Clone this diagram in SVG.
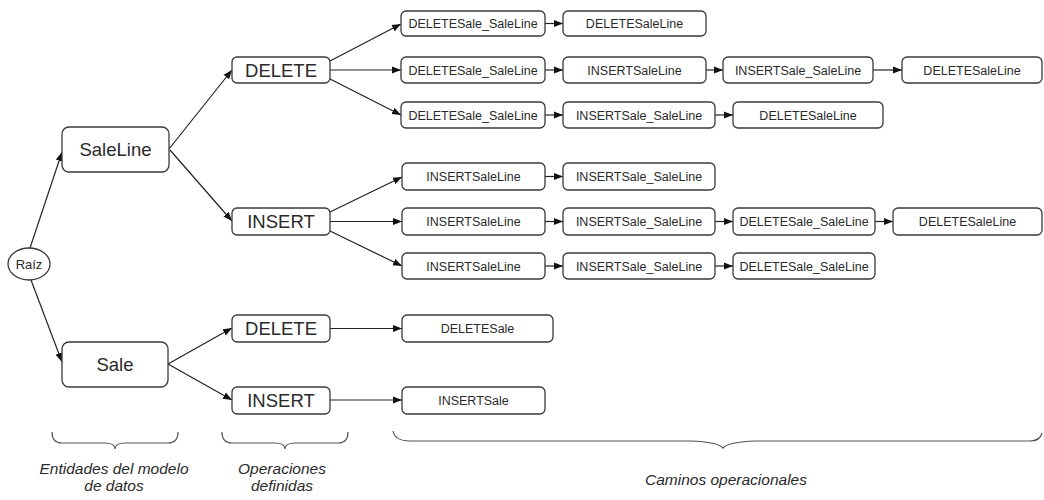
<svg xmlns="http://www.w3.org/2000/svg" width="1044" height="500" viewBox="0 0 1044 500">
<style>
.n{fill:#fff;stroke:#3a3a3a;stroke-width:1.3}
.bt{font-family:"Liberation Sans",Arial,sans-serif;font-size:18.5px;fill:#2a2a2a;text-anchor:middle}
.st{font-family:"Liberation Sans",Arial,sans-serif;font-size:12.5px;fill:#2a2a2a;text-anchor:middle}
.rt{font-family:"Liberation Sans",Arial,sans-serif;font-size:13px;fill:#2a2a2a;text-anchor:middle}
.lbl{font-family:"Liberation Sans",Arial,sans-serif;font-size:15.5px;font-style:italic;fill:#2a2a2a;text-anchor:middle}
.e{fill:none;stroke:#222;stroke-width:1.2;marker-end:url(#ah)}
.br{fill:none;stroke:#555;stroke-width:1.2}
</style>
<defs>
<marker id="ah" markerUnits="userSpaceOnUse" markerWidth="9" markerHeight="8" refX="9" refY="4" orient="auto">
<path d="M0,0.5 L9,4 L0,7.5 z" fill="#111"/>
</marker>
</defs>
<rect width="1044" height="500" fill="#fff"/>
<g id="connectors">
<line class="e" x1="30" y1="248" x2="62" y2="152"/>
<line class="e" x1="31" y1="280" x2="62" y2="362"/>
<line class="e" x1="169" y1="149" x2="232" y2="70"/>
<line class="e" x1="170" y1="150" x2="232" y2="221"/>
<line class="e" x1="168" y1="364" x2="232" y2="328"/>
<line class="e" x1="168" y1="364" x2="232" y2="400"/>
<line class="e" x1="330" y1="61" x2="401" y2="24"/>
<line class="e" x1="330" y1="70" x2="401" y2="70"/>
<line class="e" x1="330" y1="79" x2="401" y2="115"/>
<line class="e" x1="330" y1="212" x2="402" y2="177"/>
<line class="e" x1="330" y1="221.5" x2="402" y2="221.5"/>
<line class="e" x1="330" y1="231" x2="402" y2="266"/>
<line class="e" x1="330" y1="328.5" x2="402" y2="328.5"/>
<line class="e" x1="330" y1="400" x2="402" y2="400"/>
<line class="e" x1="545" y1="23.5" x2="563" y2="23.5"/>
<line class="e" x1="545" y1="70" x2="563" y2="70"/>
<line class="e" x1="706" y1="70" x2="723" y2="70"/>
<line class="e" x1="873" y1="70" x2="902" y2="70"/>
<line class="e" x1="545" y1="115" x2="563" y2="115"/>
<line class="e" x1="715" y1="115" x2="733" y2="115"/>
<line class="e" x1="545" y1="176.5" x2="563" y2="176.5"/>
<line class="e" x1="545" y1="221.5" x2="563" y2="221.5"/>
<line class="e" x1="715" y1="221.5" x2="733" y2="221.5"/>
<line class="e" x1="875" y1="221.5" x2="893" y2="221.5"/>
<line class="e" x1="545" y1="266" x2="563" y2="266"/>
<line class="e" x1="715" y1="266" x2="733" y2="266"/>
</g>
<g id="raiz"><ellipse class="n" cx="29" cy="264" rx="21" ry="16"/><text class="rt" x="29" y="268.5">Raíz</text></g>
<g id="saleline"><rect class="n" x="62" y="127" width="107" height="45" rx="7"/><text class="bt" x="115.5" y="156">SaleLine</text></g>
<g id="sale"><rect class="n" x="62" y="342" width="106" height="45" rx="7"/><text class="bt" x="115" y="371">Sale</text></g>
<g id="sl-delete"><rect class="n" x="232" y="57" width="98" height="26" rx="5"/><text class="bt" x="281" y="76.5">DELETE</text></g>
<g id="sl-insert"><rect class="n" x="232" y="208" width="98" height="27" rx="5"/><text class="bt" x="281" y="228">INSERT</text></g>
<g id="s-delete"><rect class="n" x="232" y="315" width="98" height="27" rx="5"/><text class="bt" x="281" y="335">DELETE</text></g>
<g id="s-insert"><rect class="n" x="232" y="387" width="98" height="27" rx="5"/><text class="bt" x="281" y="407">INSERT</text></g>
<g id="a1-1"><rect class="n" x="401" y="11" width="144" height="25" rx="5"/><text class="st" x="473" y="28">DELETESale_SaleLine</text></g>
<g id="a1-2"><rect class="n" x="563" y="11" width="143" height="25" rx="5"/><text class="st" x="634.5" y="28">DELETESaleLine</text></g>
<g id="a2-1"><rect class="n" x="401" y="57" width="144" height="26" rx="5"/><text class="st" x="473" y="74.5">DELETESale_SaleLine</text></g>
<g id="a2-2"><rect class="n" x="563" y="57" width="143" height="26" rx="5"/><text class="st" x="634.5" y="74.5">INSERTSaleLine</text></g>
<g id="a2-3"><rect class="n" x="723" y="57" width="150" height="26" rx="5"/><text class="st" x="798" y="74.5">INSERTSale_SaleLine</text></g>
<g id="a2-4"><rect class="n" x="902" y="57" width="140" height="26" rx="5"/><text class="st" x="972" y="74.5">DELETESaleLine</text></g>
<g id="a3-1"><rect class="n" x="401" y="102" width="144" height="26" rx="5"/><text class="st" x="473" y="119.5">DELETESale_SaleLine</text></g>
<g id="a3-2"><rect class="n" x="563" y="102" width="152" height="26" rx="5"/><text class="st" x="639" y="119.5">INSERTSale_SaleLine</text></g>
<g id="a3-3"><rect class="n" x="733" y="102" width="150" height="26" rx="5"/><text class="st" x="808" y="119.5">DELETESaleLine</text></g>
<g id="b1-1"><rect class="n" x="402" y="163" width="143" height="27" rx="5"/><text class="st" x="473.5" y="181">INSERTSaleLine</text></g>
<g id="b1-2"><rect class="n" x="563" y="163" width="152" height="27" rx="5"/><text class="st" x="639" y="181">INSERTSale_SaleLine</text></g>
<g id="b2-1"><rect class="n" x="402" y="208" width="143" height="27" rx="5"/><text class="st" x="473.5" y="226">INSERTSaleLine</text></g>
<g id="b2-2"><rect class="n" x="563" y="208" width="152" height="27" rx="5"/><text class="st" x="639" y="226">INSERTSale_SaleLine</text></g>
<g id="b2-3"><rect class="n" x="733" y="208" width="142" height="27" rx="5"/><text class="st" x="804" y="226">DELETESale_SaleLine</text></g>
<g id="b2-4"><rect class="n" x="893" y="208" width="149" height="27" rx="5"/><text class="st" x="967.5" y="226">DELETESaleLine</text></g>
<g id="b3-1"><rect class="n" x="402" y="253" width="143" height="26" rx="5"/><text class="st" x="473.5" y="270.5">INSERTSaleLine</text></g>
<g id="b3-2"><rect class="n" x="563" y="253" width="152" height="26" rx="5"/><text class="st" x="639" y="270.5">INSERTSale_SaleLine</text></g>
<g id="b3-3"><rect class="n" x="733" y="253" width="142" height="26" rx="5"/><text class="st" x="804" y="270.5">DELETESale_SaleLine</text></g>
<g id="c1"><rect class="n" x="402" y="315" width="151" height="27" rx="5"/><text class="st" x="477.5" y="333">DELETESale</text></g>
<g id="c2"><rect class="n" x="402" y="387" width="143" height="27" rx="5"/><text class="st" x="473.5" y="405">INSERTSale</text></g>
<g id="braces">
<path class="br" d="M52,432 Q52,443 62,443 L105,443 Q115,443 115,449 Q115,443 125,443 L168,443 Q178,443 178,432"/>
<path class="br" d="M222,432 Q222,443 232,443 L275,443 Q285,443 285,449 Q285,443 295,443 L338,443 Q348,443 348,432"/>
<path class="br" d="M393,431 Q395,441 410,441 L690,441 Q718,442 723,448 Q728,442 756,441 L1030,441 Q1040,441 1042,433"/>
</g>
<g id="labels">
<text class="lbl" x="114" y="474">Entidades del modelo</text>
<text class="lbl" x="114" y="491">de datos</text>
<text class="lbl" x="282" y="474">Operaciones</text>
<text class="lbl" x="282" y="491">definidas</text>
<text class="lbl" x="726" y="485">Caminos operacionales</text>
</g>
</svg>
